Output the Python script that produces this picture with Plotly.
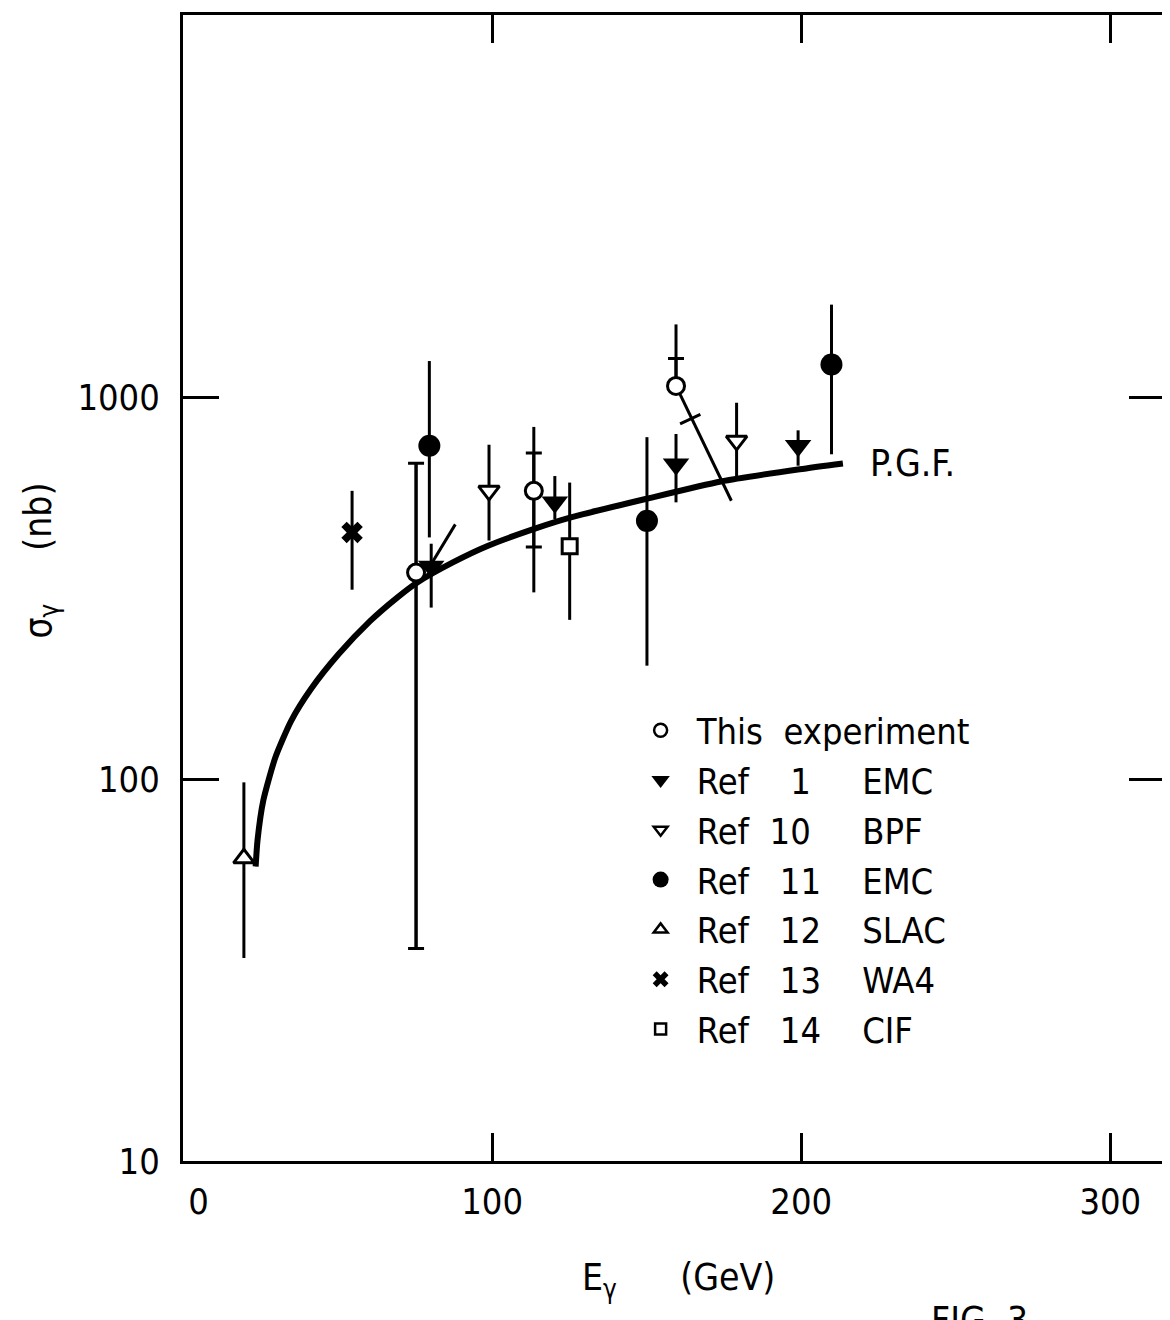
import math
import plotly.graph_objects as go

# ---------------- data ----------------
# P.G.F. curve
pgf_E = [23.5, 24.1, 26.0, 29.9, 35.0, 41.4, 50.3, 60.5, 69.4, 75.8, 87.3,
         98.7, 114.1, 125.5, 149.8, 174.0, 199.5, 213.5]
pgf_sig = [59, 69, 88, 114, 142, 172, 212, 259, 299, 327, 369,
           408, 453, 484, 541, 601, 647, 670]

# This experiment (open circles): value, total error limits, statistical limits
this_E = [75.4, 113.5, 159.5]
this_sig = [347, 568, 1069]
this_tot_hi = [671, 835, 1549]
this_tot_lo = [36, 308, 1069]
this_stat_hi = [671, 714, 1262]
this_stat_lo = [36, 405, 1069]
# slanted lower-limit line attached to the 160 GeV point
this_slope_E = [159.5, 177.4]
this_slope_sig = [1069, 535]
this_slope_tick_E = [164.1]
this_slope_tick_sig = [875]

# Ref 1 EMC (filled down-triangles)
ref1_E = [80.3, 120.3, 159.5, 199.0]
ref1_sig = [360, 530, 667, 745]
ref1_hi = [413, 621, 800, 818]
ref1_lo = [281, 479, 530, 661]
ref1_arrow_E = [79.0, 88.1]
ref1_arrow_sig = [351, 464]

# Ref 10 BPF (open down-triangles)
bpf_E = [99.0, 179.1]
bpf_sig = [568, 768]
bpf_hi = [750, 966]
bpf_lo = [421, 621]

# Ref 11 EMC (filled circles)
r11_E = [79.7, 150.1, 209.8]
r11_sig = [745, 474, 1216]
r11_hi = [1242, 785, 1745]
r11_lo = [429, 198, 708]

# Ref 12 SLAC (open up-triangle)
slac_E = [19.7]
slac_sig = [62]
slac_hi = [98]
slac_lo = [34]

# Ref 13 WA4 (cross)
wa4_E = [54.7]
wa4_sig = [442]
wa4_hi = [568]
wa4_lo = [313]

# Ref 14 CIF (open square)
cif_E = [125.1]
cif_sig = [407]
cif_hi = [597]
cif_lo = [261]

NB = "\u00a0"
legend_names = [
    "\u2002This" + NB * 2 + "experiment",
    "\u2002Ref" + NB * 4 + "1" + NB * 5 + "EMC",
    "\u2002Ref" + NB * 2 + "10" + NB * 5 + "BPF",
    "\u2002Ref" + NB * 3 + "11" + NB * 4 + "EMC",
    "\u2002Ref" + NB * 3 + "12" + NB * 4 + "SLAC",
    "\u2002Ref" + NB * 3 + "13" + NB * 4 + "WA4",
    "\u2002Ref" + NB * 3 + "14" + NB * 4 + "CIF",
]

x_ticks = [0, 100, 200, 300]
x_ticktext = ["\u2007" + NB + "0", "100", "200", "300"]
y_ticks = [10, 100, 1000]
y_ticktext = ["10", "100", "1000"]

# ---------------- figure ----------------
BLACK = "black"
TICKFONT = dict(family="Liberation Sans Narrow, DejaVu Sans Condensed, sans-serif", size=36, color=BLACK)
TEXTFONT = dict(family="DejaVu Sans Condensed, Liberation Sans Narrow, sans-serif", size=37, color=BLACK)
LEGFONT = dict(family="DejaVu Sans Condensed, Liberation Sans Narrow, sans-serif", size=36, color=BLACK)


def errs(v, hi, lo):
    return [h - s for h, s in zip(hi, v)], [s - l for s, l in zip(v, lo)]


def eb(arr, arrm, width=0):
    return dict(type="data", symmetric=False, array=arr, arrayminus=arrm,
                color=BLACK, thickness=3, width=width)


fig = go.Figure()

# curve
fig.add_trace(go.Scatter(x=pgf_E, y=pgf_sig, mode="lines",
                         line=dict(color=BLACK, width=6, shape="spline", smoothing=0.6),
                         showlegend=False, hoverinfo="skip"))

# auxiliary lines
fig.add_trace(go.Scatter(x=ref1_arrow_E, y=ref1_arrow_sig, mode="lines",
                         line=dict(color=BLACK, width=3), showlegend=False))
fig.add_trace(go.Scatter(x=this_slope_E, y=this_slope_sig, mode="lines",
                         line=dict(color=BLACK, width=3), showlegend=False))
fig.add_trace(go.Scatter(x=this_slope_tick_E, y=this_slope_tick_sig, mode="markers",
                         marker=dict(symbol="line-ew", size=16, angle=-25,
                                     line=dict(color=BLACK, width=3)),
                         showlegend=False))

# filled markers
p, m = errs(r11_sig, r11_hi, r11_lo)
fig.add_trace(go.Scatter(x=r11_E, y=r11_sig, mode="markers", error_y=eb(p, m),
                         marker=dict(symbol="circle", size=22, color=BLACK), showlegend=False))
p, m = errs(ref1_sig, ref1_hi, ref1_lo)
fig.add_trace(go.Scatter(x=ref1_E, y=ref1_sig, mode="markers", error_y=eb(p, m),
                         marker=dict(symbol="triangle-down", size=23, color=BLACK), showlegend=False))
p, m = errs(wa4_sig, wa4_hi, wa4_lo)
fig.add_trace(go.Scatter(x=wa4_E, y=wa4_sig, mode="markers", error_y=eb(p, m),
                         marker=dict(symbol="x", size=19, color=BLACK), showlegend=False))

# open markers
p, m = errs(bpf_sig, bpf_hi, bpf_lo)
fig.add_trace(go.Scatter(x=bpf_E, y=bpf_sig, mode="markers", error_y=eb(p, m),
                         marker=dict(symbol="triangle-down", size=18, color="white",
                                     line=dict(color=BLACK, width=3)), showlegend=False))
p, m = errs(slac_sig, slac_hi, slac_lo)
fig.add_trace(go.Scatter(x=slac_E, y=slac_sig, mode="markers", error_y=eb(p, m),
                         marker=dict(symbol="triangle-up", size=18, color="white",
                                     line=dict(color=BLACK, width=3)), showlegend=False))
p, m = errs(cif_sig, cif_hi, cif_lo)
fig.add_trace(go.Scatter(x=cif_E, y=cif_sig, mode="markers", error_y=eb(p, m),
                         marker=dict(symbol="square", size=15, color="white",
                                     line=dict(color=BLACK, width=3)), showlegend=False))
# this experiment: statistical (with cross-bars) and total errors
p, m = errs(this_sig, this_stat_hi, this_stat_lo)
fig.add_trace(go.Scatter(x=this_E, y=this_sig, mode="markers", error_y=eb(p, m, width=8),
                         marker=dict(size=1, color="rgba(0,0,0,0)"), showlegend=False))
p, m = errs(this_sig, this_tot_hi, this_tot_lo)
fig.add_trace(go.Scatter(x=this_E, y=this_sig, mode="markers", error_y=eb(p, m),
                         marker=dict(symbol="circle", size=17, color="white",
                                     line=dict(color=BLACK, width=3)), showlegend=False))

# legend-only entries
leg_markers = [
    dict(symbol="circle", size=13, color="white", line=dict(color=BLACK, width=2.5)),
    dict(symbol="triangle-down", size=16, color=BLACK),
    dict(symbol="triangle-down", size=12, color="white", line=dict(color=BLACK, width=2.5)),
    dict(symbol="circle", size=16, color=BLACK),
    dict(symbol="triangle-up", size=12, color="white", line=dict(color=BLACK, width=2.5)),
    dict(symbol="x", size=14, color=BLACK),
    dict(symbol="square", size=11, color="white", line=dict(color=BLACK, width=2.5)),
]
for name, mk in zip(legend_names, leg_markers):
    fig.add_trace(go.Scatter(x=[None], y=[None], mode="markers", name=name, marker=mk,
                             showlegend=True))

axis_common = dict(showline=True, linewidth=3, linecolor=BLACK, mirror="ticks",
                   ticks="inside", tickwidth=3, tickcolor=BLACK, showgrid=False,
                   zeroline=False, tickfont=TICKFONT)

fig.update_layout(
    width=1162, height=1312,
    margin=dict(l=175, r=2, t=7, b=159),
    paper_bgcolor="white", plot_bgcolor="white",
    xaxis=dict(range=[0, 317.7], tickvals=x_ticks, ticktext=x_ticktext, ticklen=28,
               ticklabelstandoff=7, **axis_common),
    yaxis=dict(type="log", range=[1, 4], tickvals=y_ticks, ticktext=y_ticktext,
               ticklen=36, ticklabelstandoff=13, **axis_common),
    legend=dict(x=0.466, y=0.402, xanchor="left", yanchor="top", font=LEGFONT,
                bgcolor="rgba(0,0,0,0)", borderwidth=0, traceorder="normal",
                itemsizing="trace"),
    annotations=[
        dict(x=221.6, y=math.log10(670), xref="x", yref="y", text="P.G.F.",
             showarrow=False, xanchor="left", yanchor="middle", font=TEXTFONT),
        dict(x=0.5046, y=-0.1038, xref="paper", yref="paper",
             text="E<sub>γ</sub>" + NB * 6 + "(GeV)", showarrow=False,
             xanchor="center", yanchor="middle", font=TEXTFONT),
        dict(x=-0.145, y=0.5236, xref="paper", yref="paper", textangle=-90,
             text="σ<sub>γ</sub>" + NB * 5 + "(nb)", showarrow=False,
             xanchor="center", yanchor="middle", font=TEXTFONT),
        dict(x=0.760, y=-0.1186, xref="paper", yref="paper", text="FIG. 3",
             showarrow=False, xanchor="left", yanchor="top", font=TEXTFONT),
    ],
)

fig.write_html("out.html")
